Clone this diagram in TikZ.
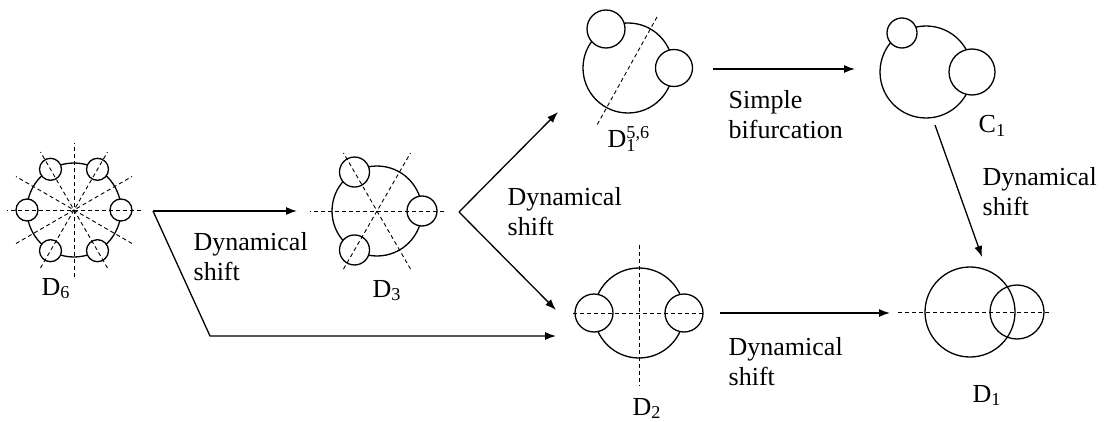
\documentclass[tikz,border=0pt]{standalone}
\usepackage{fontspec}
\setmainfont{Liberation Serif}
\usetikzlibrary{arrows.meta,calc}
\begin{document}
\begin{tikzpicture}[x=1pt,y=-1pt,
  line width=1.3pt,
  dsh/.style={line width=0.9pt, dash pattern=on 4pt off 3pt},
  arr/.style={line width=1.3pt,-{Latex[length=11pt,width=8pt]}},
  sm/.style={draw, fill=white, line width=1.3pt},
  lbl/.style={font=\fontsize{26}{30}\selectfont, align=left, anchor=north west, inner sep=0pt},
  nm/.style={font=\fontsize{26}{30}\selectfont, anchor=base west, inner sep=0pt}]
\useasboundingbox (0,0) rectangle (1107,422);

% ---------- D6 ----------
\coordinate (c6) at (74,210);
\draw (c6) circle[radius=47];
\foreach \a in {0,60,...,300}
  \draw[sm] ($(c6)+({47*cos(\a)},{47*sin(\a)})$) circle[radius=11];
\foreach \a in {0,30,...,150}
  \draw[dsh] ($(c6)+({67*cos(\a)},{67*sin(\a)})$) -- ($(c6)-({67*cos(\a)},{67*sin(\a)})$);
\node[nm] (n6) at (41,295) {D\textsubscript{6}};

% ---------- D3 ----------
\coordinate (c3) at (377,211);
\draw (c3) circle[radius=45];
\foreach \a in {0,120,240}
  \draw[sm] ($(c3)+({45*cos(\a)},{45*sin(\a)})$) circle[radius=15];
\foreach \a in {0,60,120}
  \draw[dsh] ($(c3)+({67*cos(\a)},{67*sin(\a)})$) -- ($(c3)-({67*cos(\a)},{67*sin(\a)})$);
\node[nm] (n3) at (372,297) {D\textsubscript{3}};

% ---------- D1^{5,6} ----------
\coordinate (c56) at (628,68);
\draw (c56) circle[radius=45];
\draw[sm] (606,29) circle[radius=19];
\draw[sm] (674,68) circle[radius=18.5];
\coordinate (d56a) at (657,17);
\coordinate (d56b) at (597,125);
\draw[dsh] (d56a) -- (d56b);
\node[nm] (n56) at (607,148) {D\rlap{\textsubscript{1}}\textsuperscript{5,6}};

% ---------- C1 ----------
\coordinate (cc) at (926,72);
\draw (cc) circle[radius=46];
\draw[sm] (902,33) circle[radius=15];
\draw[sm] (972,72) circle[radius=23];
\node[nm] (nc) at (978,133) {C\textsubscript{1}};

% ---------- D2 ----------
\coordinate (c2) at (639,313);
\draw (c2) circle[radius=45];
\draw[sm] (594,313) circle[radius=19];
\draw[sm] (684,313) circle[radius=19];
\coordinate (d2l) at (573,313);
\coordinate (d2r) at (705,313);
\coordinate (d2t) at (639,245);
\coordinate (d2b) at (639,386);
\draw[dsh] (d2l) -- (d2r);
\draw[dsh] (d2t) -- (d2b);
\node[nm] (n2) at (632,415) {D\textsubscript{2}};

% ---------- D1 ----------
\coordinate (c1) at (970,312);
\draw (c1) circle[radius=45];
\draw (1017,312) circle[radius=27];
\coordinate (d1l) at (898,312);
\coordinate (d1r) at (1052,312);
\draw[dsh] (d1l) -- (d1r);
\node[nm] (n1) at (972,402) {D\textsubscript{1}};

% ---------- arrows ----------
\coordinate (s1) at (153,211);
\coordinate (t1) at (297,211);
\coordinate (k1) at (210,336);
\coordinate (t1b) at (556,336);
\draw[arr] (s1) -- (t1);
\draw[arr] (s1) -- (k1) -- (t1b);

\coordinate (s2) at (459,212);
\coordinate (t2a) at (558,112);
\coordinate (t2b) at (556,310);
\draw[arr] (s2) -- (t2a);
\draw[arr] (s2) -- (t2b);

\coordinate (s4) at (713,69);
\coordinate (t4) at (855,69);
\draw[arr] (s4) -- (t4);

\coordinate (s5) at (935,125);
\coordinate (t5) at (982,257);
\draw[arr] (s5) -- (t5);

\coordinate (s6) at (720,313);
\coordinate (t6) at (890,313);
\draw[arr] (s6) -- (t6);

% ---------- labels ----------
\node[lbl] (l1) at (193,232) {Dynamical\\shift};
\node[lbl] (l2) at (507,187) {Dynamical\\shift};
\node[lbl] (l3) at (728,90) {Simple\\bifurcation};
\node[lbl] (l4) at (982,167) {Dynamical\\shift};
\node[lbl] (l5) at (728,337) {Dynamical\\shift};
\end{tikzpicture}
\end{document}
